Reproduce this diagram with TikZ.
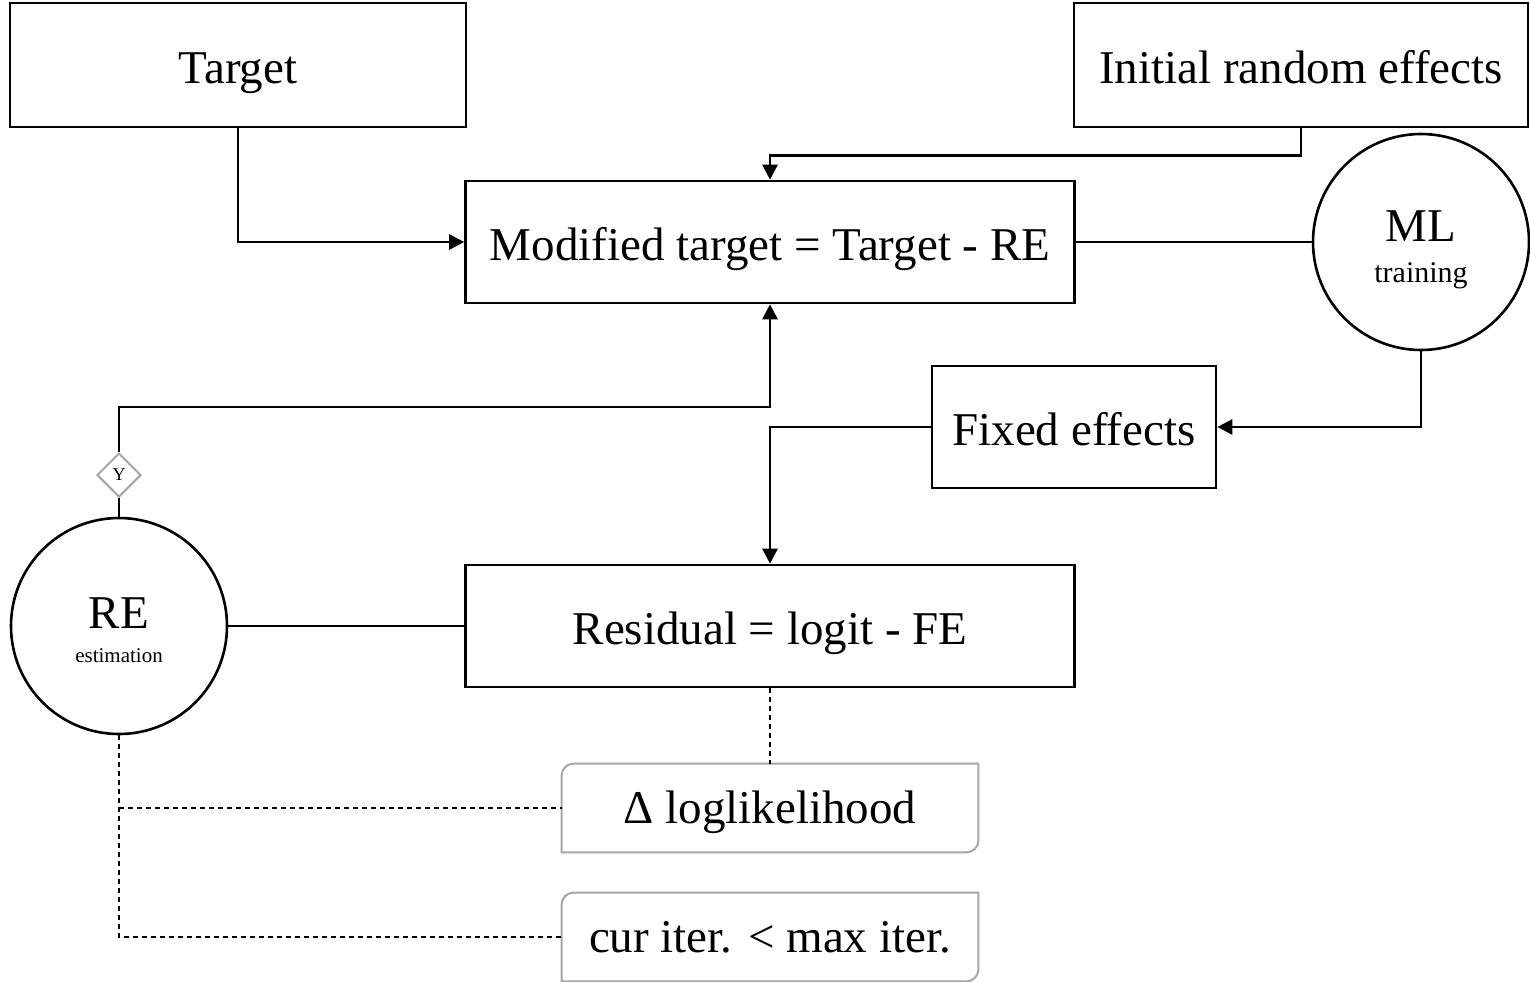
\documentclass[tikz,border=0pt]{standalone}
\usepackage{fontspec}
\setmainfont{Liberation Serif}
\usetikzlibrary{arrows.meta, shapes.geometric}

\definecolor{softgray}{RGB}{165,165,165}
\tikzset{
  big/.style={font=\fontsize{23.5}{28}\selectfont},
  box/.style={draw, line width=1.3pt, big, inner sep=0pt, text height=18pt, text depth=0pt, minimum height=61pt},
  circ/.style={draw, circle, line width=1.3pt, inner sep=0pt, minimum size=108pt},
  note/.style={big, inner sep=0pt, text height=15.5pt, text depth=0pt, minimum width=208pt, minimum height=44pt},
  choice/.style={draw=softgray, diamond, line width=1pt, inner sep=0pt, minimum size=22pt, font=\fontsize{9}{10}\selectfont},
  flow/.style={line width=1.3pt, -{Triangle[length=7.5pt,width=7.5pt]}},
  link/.style={line width=1.3pt},
  dashlink/.style={line width=0.8pt, dash pattern=on 2.5pt off 2pt}
}

\begin{document}
\begin{tikzpicture}[x=0.5pt, y=-0.5pt]
\useasboundingbox (0,0) rectangle (1530,981);

\node[box, minimum width=228pt, minimum height=62pt] (target) at (238,65) {Target};
\node[box, minimum width=227pt, minimum height=62pt] (init) at (1301,65) {Initial random effects};
\node[box, minimum width=304.5pt] (mod) at (770,242) {Modified target = Target - RE};
\node[circ] (ml) at (1421,242) {};
\node[big, anchor=base] (mlname) at (1421,241) {ML};
\node[anchor=base, font=\fontsize{15}{17}\selectfont] (mlsub) at (1421,282) {training};
\node[box, minimum width=142pt] (fe) at (1074,427) {Fixed effects};
\node[box, minimum width=304.5pt] (res) at (770,626) {Residual = logit - FE};
\node[circ] (re) at (119,626) {};
\node[big, anchor=base] (rename) at (119,628) {RE};
\node[anchor=base, font=\fontsize{10.5}{12}\selectfont] (resub) at (119,662) {estimation};
\node[choice] (yes) at (119,475) {Y};
\node[note] (dll) at (770,808) {Δ loglikelihood};
\node[note] (iter) at (770,937) {cur iter. < max iter.};

\foreach \n in {dll,iter}
  \draw[softgray, line width=1pt] (\n.south west) -- ([yshift=-6pt]\n.north west)
    arc[start angle=180, end angle=90, radius=6pt] -- (\n.north east)
    -- ([yshift=6pt]\n.south east) arc[start angle=0, end angle=-90, radius=6pt] -- cycle;

\draw[flow] (target.south) |- (mod.west);
\draw[flow] (init.south) -- ++(0,27) -| (mod.north);
\draw[link] (mod.east) -- (ml.west);
\draw[flow] (ml.south) |- (fe.east);
\draw[flow] (fe.west) -| (res.north);
\draw[link] (res.west) -- (re.east);
\draw[link] (re.north) -- (yes.south);
\draw[flow] (yes.north) -- ++(0,-45) -| (mod.south);
\draw[dashlink] (res.south) -- (dll.north);
\draw[dashlink] (re.south) |- (iter.west);
\draw[dashlink] (re.south |- dll.west) -- (dll.west);
\end{tikzpicture}
\end{document}
